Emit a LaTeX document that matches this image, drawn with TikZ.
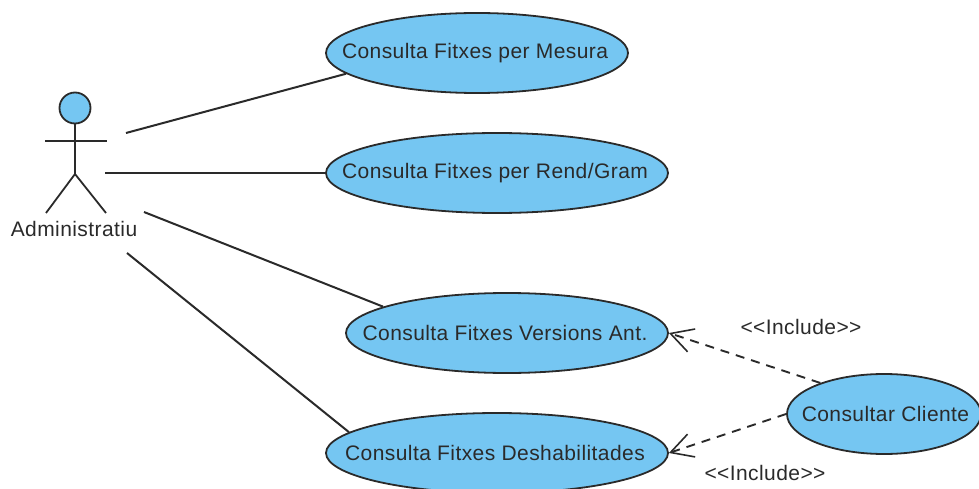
\documentclass[tikz,border=0pt]{standalone}
\usepackage{fontspec}
\setmainfont{Liberation Sans}[LetterSpace=2]
\usetikzlibrary{shapes.geometric,arrows.meta}
\definecolor{ucfill}{HTML}{75C6F2}
\definecolor{ink}{HTML}{2A2A2A}
\newcommand{\uctext}[2][-4pt]{\makebox[0pt][c]{\hspace*{#1}\raisebox{-1.5pt}{#2}}}
\tikzset{
  usecase/.style={ellipse,draw=ink,fill=ucfill,line width=1.8pt,inner sep=0pt,text=ink,font=\fontsize{21}{24}\selectfont},
  assoc/.style={draw=ink,line width=2pt},
  limb/.style={draw=ink,line width=1.8pt},
  incl/.style={draw=ink,line width=1.9pt,dash pattern=on 9pt off 7pt,-{Straight Barb[length=22pt,width=24pt,line width=1.6pt]}},
  lbl/.style={text=ink,inner sep=0pt,font=\fontsize{21}{24}\selectfont},
}
\begin{document}
\begin{tikzpicture}[x=1pt,y=-1pt]
\useasboundingbox (0,0) rectangle (979,489);
\clip (0,0) rectangle (979,489);
\node[usecase,minimum width=302pt,minimum height=80pt] (u1) at (477,53) {\uctext{Consulta Fitxes per Mesura}};
\node[usecase,minimum width=342pt,minimum height=80pt] (u2) at (497,173) {\uctext{Consulta Fitxes per Rend/Gram}};
\node[usecase,minimum width=322pt,minimum height=80pt] (u3) at (507,333) {\uctext{Consulta Fitxes Versions Ant.}};
\node[usecase,minimum width=342pt,minimum height=80pt] (u4) at (497,453) {\uctext{Consulta Fitxes Deshabilitades}};
\node[usecase,minimum width=194pt,minimum height=80pt] (u5) at (884,414) {\uctext[3pt]{Consultar Cliente}};
% actor
\node[circle,draw=ink,fill=ucfill,line width=1.8pt,minimum size=31pt,inner sep=0pt] (head) at (75,108) {};
\coordinate (hip) at (75,174);
\coordinate (armL) at (45,141);
\coordinate (armR) at (107,141);
\coordinate (footL) at (46,213);
\coordinate (footR) at (106,213);
\draw[limb] (head.south) -- (hip);
\draw[limb] (armL) -- (armR);
\draw[limb] (footL) -- (hip) -- (footR);
\node[lbl] (actor) at (74,229) {Administratiu};
% associations
\coordinate (a1) at (126,133);
\coordinate (a2) at (105,173);
\coordinate (a3) at (144,212);
\coordinate (a4) at (127,253);
\draw[assoc] (a1) -- (u1.189);
\draw[assoc] (a2) -- (u2.180);
\draw[assoc] (a3) -- (u3.168);
\draw[assoc] (a4) -- (u4.172);
% includes
\draw[incl] (u5.154) -- (u3.east);
\draw[incl] (u5.180) -- (u4.east);
\node[lbl] (l1) at (801,327) {<{}<Include>{}>};
\node[lbl] (l2) at (765,473) {<{}<Include>{}>};
\end{tikzpicture}
\end{document}
